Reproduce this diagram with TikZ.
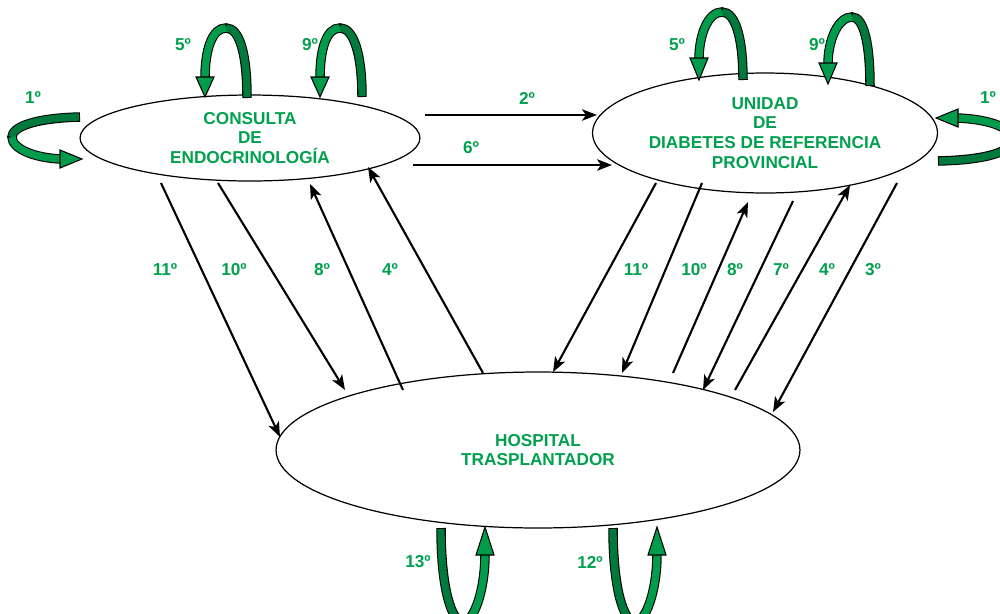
\documentclass[tikz,border=0pt]{standalone}
\usepackage{fontspec}
\setmainfont{Liberation Sans}
\usetikzlibrary{shapes.geometric,arrows.meta}
\definecolor{glight}{RGB}{0,155,75}
\definecolor{gdark}{RGB}{0,122,60}
\definecolor{gtext}{RGB}{0,160,78}
\tikzset{
  stateell/.style={ellipse, draw=black, line width=0.7pt, inner sep=0pt, align=center,
    text=gtext, font=\bfseries\fontsize{9.8}{11.3}\selectfont},
  lbl/.style={text=gtext, font=\bfseries\fontsize{9.8}{11.3}\selectfont, inner sep=0pt},
  arr/.style={draw=black, line width=1.2pt, -{Stealth[length=8.5pt,width=6.5pt,inset=2.2pt]}},
  ribout/.style={draw=black, line width=5.4pt},
  ribdark/.style={draw=gdark, line width=4.2pt},
  riblight/.style={draw=glight, line width=4.2pt},
  rhead/.style={fill=glight, draw=black, line width=0.6pt, line join=miter}
}
\begin{document}
\begin{tikzpicture}[x=0.02cm,y=-0.02cm]
\useasboundingbox (0,0) rectangle (1000,613);

% nodes
\node[stateell, minimum width=6.8cm, minimum height=1.72cm] (cons) at (250,138) {CONSULTA\\DE\\ENDOCRINOLOGÍA};
\node[stateell, minimum width=6.9cm, minimum height=2.4cm] (unid) at (765,133) {UNIDAD\\DE\\DIABETES DE REFERENCIA\\PROVINCIAL};
\node[stateell, minimum width=10.48cm, minimum height=3.12cm] (hosp) at (538,450) {HOSPITAL\\TRASPLANTADOR};

% endpoints
\coordinate (a2s) at (425,115);  \coordinate (a2e) at (597,115);
\coordinate (a6s) at (413,165);  \coordinate (a6e) at (612,165);
\coordinate (l11s) at (161,183); \coordinate (l11e) at (280,437);
\coordinate (l10s) at (218,183); \coordinate (l10e) at (345,390);
\coordinate (l8s) at (403,390);  \coordinate (l8e) at (310,184);
\coordinate (l4s) at (483,373);  \coordinate (l4e) at (368,167);
\coordinate (r11s) at (656,183); \coordinate (r11e) at (553,372);
\coordinate (r10s) at (702,183); \coordinate (r10e) at (622,373);
\coordinate (r8s) at (673,373);  \coordinate (r8e) at (748,202);
\coordinate (r7s) at (793,201);  \coordinate (r7e) at (703,390);
\coordinate (r4s) at (735,390);  \coordinate (r4e) at (850,185);
\coordinate (r3s) at (897,183);  \coordinate (r3e) at (773,412);

% connectors
\draw[arr] (a2s) -- (a2e);
\draw[arr] (a6s) -- (a6e);
\draw[arr] (l11s) -- (l11e);
\draw[arr] (l10s) -- (l10e);
\draw[arr] (l8s) -- (l8e);
\draw[arr] (l4s) -- (l4e);
\draw[arr] (r11s) -- (r11e);
\draw[arr] (r10s) -- (r10e);
\draw[arr] (r8s) -- (r8e);
\draw[arr] (r7s) -- (r7e);
\draw[arr] (r4s) -- (r4e);
\draw[arr] (r3s) -- (r3e);

% labels
\node[lbl] (t2) at (527,98) {2º};
\node[lbl] (t6) at (471,148) {6º};
\node[lbl] (tl11) at (165,270) {11º};
\node[lbl] (tl10) at (234,270) {10º};
\node[lbl] (tl8) at (322,270) {8º};
\node[lbl] (tl4) at (390,270) {4º};
\node[lbl] (tr11) at (636,270) {11º};
\node[lbl] (tr10) at (694,270) {10º};
\node[lbl] (tr8) at (735,270) {8º};
\node[lbl] (tr7) at (781,270) {7º};
\node[lbl] (tr4) at (827,270) {4º};
\node[lbl] (tr3) at (873,270) {3º};
\node[lbl] (tc5) at (183,45) {5º};
\node[lbl] (tc9) at (310,45) {9º};
\node[lbl] (tu5) at (677,45) {5º};
\node[lbl] (tu9) at (817,45) {9º};
\node[lbl] (tc1) at (33,98) {1º};
\node[lbl] (tu1) at (988,98) {1º};
\node[lbl] (th13) at (418,562) {13º};
\node[lbl] (th12) at (590,562) {12º};

% ---- green ribbon loops ----
% Consulta 5
\draw[ribout] (247,98) .. controls (247,55) and (240,28) .. (226,28) .. controls (212,28) and (205,50) .. (205,78);
\draw[ribdark] (247,97) .. controls (247,55) and (240,28) .. (226,28);
\draw[riblight] (226,28) .. controls (212,28) and (205,50) .. (205,78);
\draw[rhead] (196,77) -- (214,77) -- (205,97) -- cycle;
% Consulta 9
\draw[ribout] (362,97) .. controls (362,55) and (354,28) .. (340,28) .. controls (326,28) and (320,50) .. (320,78);
\draw[ribdark] (362,96) .. controls (362,55) and (354,28) .. (340,28);
\draw[riblight] (340,28) .. controls (326,28) and (320,50) .. (320,78);
\draw[rhead] (311,77) -- (329,77) -- (320,97) -- cycle;
% Unidad 5
\draw[ribout] (743,80) .. controls (743,40) and (736,12) .. (722,12) .. controls (708,12) and (699,35) .. (699,59);
\draw[ribdark] (743,79) .. controls (743,40) and (736,12) .. (722,12);
\draw[riblight] (722,12) .. controls (708,12) and (699,35) .. (699,59);
\draw[rhead] (690,58) -- (708,58) -- (699,80) -- cycle;
% Unidad 9
\draw[ribout] (870,86) .. controls (870,45) and (864,17) .. (852,17) .. controls (838,17) and (828,40) .. (828,64);
\draw[ribdark] (870,85) .. controls (870,45) and (864,17) .. (852,17);
\draw[riblight] (852,17) .. controls (838,17) and (828,40) .. (828,64);
\draw[rhead] (819,63) -- (837,63) -- (828,84) -- cycle;
% Hospital 13
\draw[ribout] (441,528) .. controls (441,590) and (452,622) .. (463,622) .. controls (474,622) and (485,590) .. (485,554);
\draw[ribdark] (441,529) .. controls (441,590) and (452,622) .. (463,622);
\draw[riblight] (463,622) .. controls (474,622) and (485,590) .. (485,554);
\draw[rhead] (476,555) -- (494,555) -- (485,527) -- cycle;
% Hospital 12
\draw[ribout] (613,528) .. controls (613,590) and (624,622) .. (635,622) .. controls (646,622) and (657,590) .. (657,554);
\draw[ribdark] (613,529) .. controls (613,590) and (624,622) .. (635,622);
\draw[riblight] (635,622) .. controls (646,622) and (657,590) .. (657,554);
\draw[rhead] (648,555) -- (666,555) -- (657,527) -- cycle;
% Consulta 1 (left)
\draw[ribout] (80,117) .. controls (35,118) and (12,127) .. (12,137) .. controls (12,149) and (35,158) .. (61,159);
\draw[ribdark] (79,117) .. controls (35,118) and (12,127) .. (12,137);
\draw[riblight] (12,137) .. controls (12,149) and (35,158) .. (61,159);
\draw[rhead] (60,150) -- (60,168) -- (82,159) -- cycle;
% Unidad 1 (right)
\draw[ribout] (938,161) .. controls (985,160) and (1012,152) .. (1012,140) .. controls (1012,126) and (985,119) .. (957,118);
\draw[ribdark] (939,161) .. controls (985,160) and (1012,152) .. (1012,140);
\draw[riblight] (1012,140) .. controls (1012,126) and (985,119) .. (957,118);
\draw[rhead] (958,109) -- (958,127) -- (936,118) -- cycle;
\end{tikzpicture}
\end{document}
